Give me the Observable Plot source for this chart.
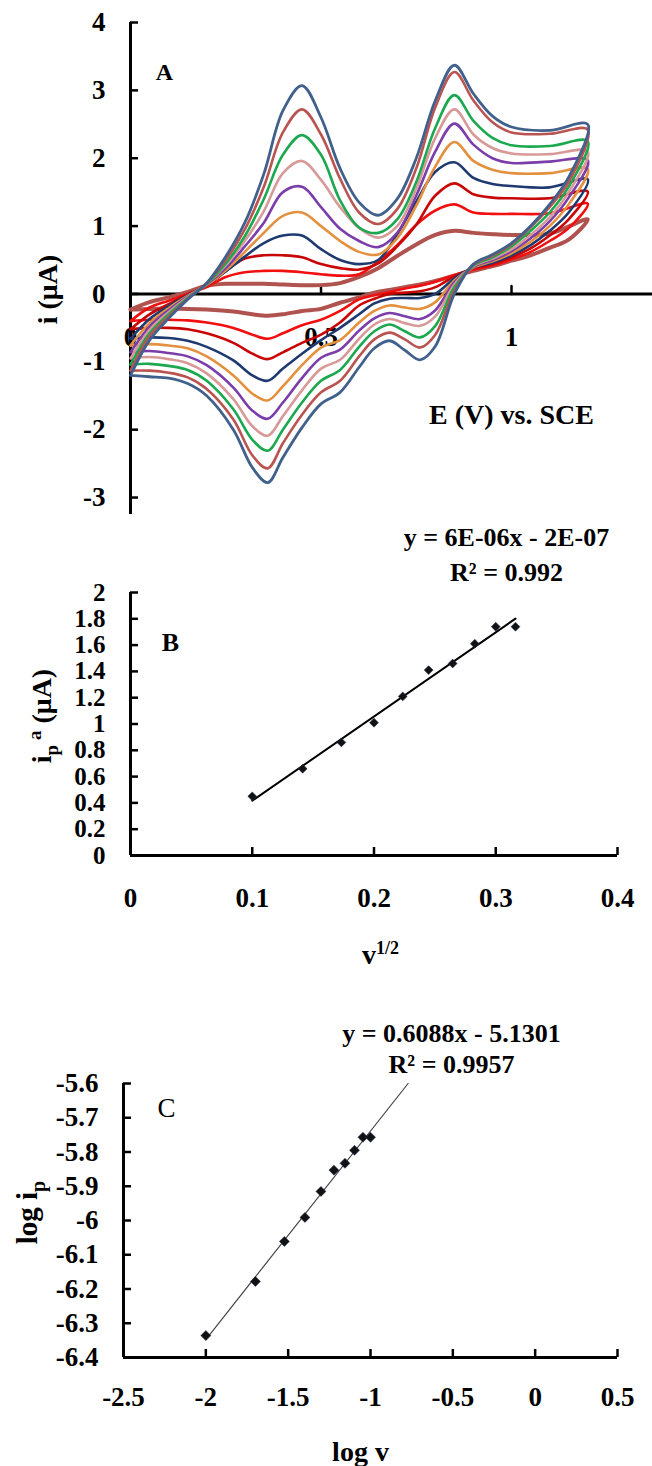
<!DOCTYPE html>
<html><head><meta charset="utf-8">
<script src="https://cdn.jsdelivr.net/npm/d3@7"></script>
<script src="https://cdn.jsdelivr.net/npm/@observablehq/plot@0.6"></script>
<style>
html,body{margin:0;padding:0;background:#fff;}
#root{position:relative;width:652px;height:1466px;overflow:hidden;background:#fff;}
#root svg{position:absolute;left:0;overflow:visible;}
</style></head><body><div id="root"></div>
<script>
// ---------- Panel A: cyclic voltammograms ----------
const E_fwd = [0, 0.05, 0.1, 0.15, 0.2, 0.25, 0.3, 0.35, 0.4, 0.45, 0.5, 0.55, 0.6, 0.65, 0.7, 0.75, 0.8, 0.85, 0.9, 0.95, 1.0, 1.1, 1.2];
const E_rev = [1.15, 1.1, 1.05, 1.0, 0.95, 0.9, 0.85, 0.8, 0.76, 0.72, 0.68, 0.64, 0.6, 0.55, 0.5, 0.45, 0.4, 0.36, 0.32, 0.27, 0.2, 0.15, 0.1, 0.05, 0];

const i_fwd_1  = [-0.23, -0.12, -0.05, 0.03, 0.12, 0.15, 0.15, 0.15, 0.14, 0.13, 0.13, 0.16, 0.25, 0.38, 0.56, 0.73, 0.87, 0.93, 0.9, 0.88, 0.87, 0.89, 1.1];
const i_fwd_2  = [-0.4, -0.2, -0.1, 0.0, 0.1, 0.25, 0.32, 0.34, 0.34, 0.32, 0.29, 0.27, 0.29, 0.48, 0.72, 1.02, 1.23, 1.32, 1.2, 1.18, 1.18, 1.19, 1.33];
const i_fwd_3  = [-0.52, -0.3, -0.15, -0.01, 0.12, 0.34, 0.52, 0.57, 0.57, 0.54, 0.44, 0.38, 0.36, 0.45, 0.7, 1.02, 1.45, 1.63, 1.47, 1.42, 1.41, 1.41, 1.51];
const i_fwd_4  = [-0.66, -0.37, -0.18, -0.02, 0.13, 0.33, 0.55, 0.75, 0.86, 0.86, 0.66, 0.5, 0.44, 0.5, 0.88, 1.36, 1.8, 1.94, 1.71, 1.62, 1.59, 1.57, 1.69];
const i_fwd_5  = [-0.76, -0.43, -0.21, -0.03, 0.13, 0.35, 0.62, 0.9, 1.15, 1.2, 1.0, 0.78, 0.62, 0.58, 0.82, 1.3, 1.88, 2.24, 1.96, 1.83, 1.78, 1.78, 1.84];
const i_fwd_6  = [-0.86, -0.48, -0.24, -0.04, 0.14, 0.38, 0.7, 1.05, 1.5, 1.58, 1.28, 0.96, 0.78, 0.69, 0.9, 1.45, 2.1, 2.51, 2.2, 2.0, 1.93, 1.95, 1.97];
const i_fwd_7  = [-0.95, -0.53, -0.27, -0.05, 0.15, 0.42, 0.78, 1.22, 1.78, 1.96, 1.68, 1.28, 0.97, 0.83, 1.0, 1.55, 2.3, 2.72, 2.35, 2.15, 2.07, 2.06, 2.1];
const i_fwd_8  = [-1.04, -0.58, -0.3, -0.06, 0.15, 0.45, 0.85, 1.4, 2.05, 2.34, 2.05, 1.38, 0.98, 0.9, 1.1, 1.65, 2.45, 2.93, 2.55, 2.3, 2.19, 2.18, 2.25];
const i_fwd_9  = [-1.13, -0.62, -0.33, -0.07, 0.16, 0.5, 0.95, 1.58, 2.38, 2.72, 2.35, 1.7, 1.2, 1.03, 1.25, 1.85, 2.75, 3.27, 2.85, 2.53, 2.38, 2.36, 2.42];
const i_fwd_10 = [-1.2, -0.68, -0.36, -0.08, 0.16, 0.55, 1.05, 1.77, 2.7, 3.07, 2.6, 1.85, 1.35, 1.16, 1.4, 2.0, 2.85, 3.37, 2.95, 2.62, 2.46, 2.41, 2.5];

const i_rev_1  = [0.8, 0.68, 0.57, 0.49, 0.41, 0.34, 0.27, 0.19, 0.14, 0.1, 0.06, 0.02, -0.05, -0.13, -0.22, -0.25, -0.3, -0.32, -0.3, -0.26, -0.23, -0.22, -0.22, -0.22, -0.23];
const i_rev_2  = [0.97, 0.78, 0.62, 0.51, 0.42, 0.36, 0.28, 0.18, 0.12, 0.08, 0.03, -0.02, -0.08, -0.25, -0.38, -0.46, -0.58, -0.66, -0.6, -0.5, -0.42, -0.39, -0.38, -0.38, -0.4];
const i_rev_3  = [1.1, 0.86, 0.67, 0.54, 0.44, 0.38, 0.26, 0.1, 0.04, 0.02, 0.0, -0.07, -0.17, -0.42, -0.6, -0.72, -0.86, -0.96, -0.88, -0.72, -0.58, -0.52, -0.5, -0.5, -0.52];
const i_rev_4  = [1.2, 0.93, 0.72, 0.57, 0.46, 0.39, 0.23, 0.0, -0.06, -0.06, -0.07, -0.14, -0.3, -0.5, -0.68, -0.88, -1.1, -1.28, -1.2, -0.98, -0.78, -0.69, -0.65, -0.64, -0.66];
const i_rev_5  = [1.32, 1.0, 0.77, 0.6, 0.48, 0.39, 0.2, -0.12, -0.22, -0.2, -0.17, -0.25, -0.42, -0.68, -0.79, -1.05, -1.36, -1.57, -1.47, -1.2, -0.92, -0.8, -0.76, -0.74, -0.76];
const i_rev_6  = [1.42, 1.07, 0.82, 0.63, 0.5, 0.4, 0.17, -0.24, -0.37, -0.33, -0.28, -0.36, -0.54, -0.82, -0.94, -1.24, -1.6, -1.84, -1.72, -1.38, -1.05, -0.92, -0.87, -0.84, -0.86];
const i_rev_7  = [1.5, 1.13, 0.87, 0.66, 0.52, 0.41, 0.14, -0.33, -0.47, -0.43, -0.37, -0.45, -0.66, -0.97, -1.1, -1.42, -1.8, -2.09, -1.95, -1.55, -1.17, -1.02, -0.96, -0.93, -0.95];
const i_rev_8  = [1.58, 1.2, 0.93, 0.7, 0.54, 0.42, 0.1, -0.47, -0.64, -0.55, -0.45, -0.55, -0.78, -1.12, -1.28, -1.6, -2.0, -2.31, -2.15, -1.7, -1.28, -1.12, -1.06, -1.03, -1.04];
const i_rev_9  = [1.65, 1.28, 0.98, 0.73, 0.56, 0.43, 0.05, -0.6, -0.79, -0.67, -0.57, -0.67, -0.92, -1.28, -1.45, -1.78, -2.2, -2.57, -2.38, -1.85, -1.4, -1.23, -1.16, -1.13, -1.13];
const i_rev_10 = [1.72, 1.32, 1.0, 0.75, 0.58, 0.44, 0.0, -0.77, -0.97, -0.83, -0.69, -0.8, -1.08, -1.45, -1.62, -1.97, -2.41, -2.78, -2.56, -2.0, -1.5, -1.32, -1.24, -1.22, -1.2];

const cvColors = ["#B0524E", "#F20F0F", "#C80606", "#1F3A70", "#E3913F", "#7A3DAA", "#D79A98", "#1BA84F", "#BA5450", "#41618C"];
const cvWidths = [4, 2.6, 2.6, 2.6, 2.6, 2.6, 2.6, 2.6, 2.6, 2.8];
const cvFwd = [i_fwd_1, i_fwd_2, i_fwd_3, i_fwd_4, i_fwd_5, i_fwd_6, i_fwd_7, i_fwd_8, i_fwd_9, i_fwd_10];
const cvRev = [i_rev_1, i_rev_2, i_rev_3, i_rev_4, i_rev_5, i_rev_6, i_rev_7, i_rev_8, i_rev_9, i_rev_10];

const yTicksA = [-3, -2, -1, 0, 1, 2, 3, 4];
const xTicksA = [0, 0.5, 1];

// ---------- Panel B ----------
const sqrtV = [0.1, 0.1414, 0.1732, 0.2, 0.2236, 0.2449, 0.2646, 0.2828, 0.3, 0.3162];
const ipa   = [0.45, 0.66, 0.86, 1.01, 1.21, 1.41, 1.46, 1.61, 1.74, 1.74];
const yTicksB = [0, 0.2, 0.4, 0.6, 0.8, 1, 1.2, 1.4, 1.6, 1.8, 2];
const xTicksB = [0, 0.1, 0.2, 0.3, 0.4];
const eqB = ["y = 6E-06x - 2E-07", "R² = 0.992"];

// ---------- Panel C ----------
const logV  = [-2, -1.699, -1.523, -1.398, -1.301, -1.222, -1.155, -1.097, -1.046, -1.0];
const logIp = [-6.336, -6.178, -6.061, -5.991, -5.915, -5.853, -5.833, -5.795, -5.757, -5.757];
const trendC = [0.6088, -5.1301];
const yTicksC = [-6.4, -6.3, -6.2, -6.1, -6, -5.9, -5.8, -5.7, -5.6];
const xTicksC = [-2.5, -2, -1.5, -1, -0.5, 0, 0.5];
const eqC = ["y = 0.6088x - 5.1301", "R² = 0.9957"];

// ---------- helpers ----------
const FONT = "'Liberation Serif', 'Times New Roman', serif";
const tickUp = {draw(ctx, l) { ctx.moveTo(0, 0); ctx.lineTo(0, -l); }};
const fmt = d => String(d);
const root = document.getElementById("root");
function place(svg, top) { svg.style.top = top + "px"; root.appendChild(svg); return svg; }
function rich(svg, content, parts) {
  const t = Array.from(svg.querySelectorAll("text")).find(n => n.textContent === content);
  if (!t) return;
  t.textContent = "";
  for (const p of parts) {
    const ts = document.createElementNS("http://www.w3.org/2000/svg", "tspan");
    ts.textContent = p.t;
    if (p.dy != null) ts.setAttribute("dy", p.dy);
    if (p.size != null) ts.setAttribute("font-size", p.size);
    t.appendChild(ts);
  }
}
const axisTxt = {fontSize: 27, fontWeight: "bold", fontFamily: FONT};
function label(str, o) {
  return Plot.text([str], {text: d => d, textAnchor: "middle", lineAnchor: "middle", fontFamily: FONT, fontWeight: "bold", ...o});
}

// ---------- build A ----------
const cvTable = cvFwd.flatMap((f, k) => [
  ...E_fwd.map((E, j) => ({k, E, i: f[j]})),
  ...E_rev.map((E, j) => ({k, E, i: cvRev[k][j]}))
]);
const cvLines = cvFwd.map((f, k) => Plot.line(cvTable.filter(d => d.k === k), {
  x: "E", y: "i", stroke: cvColors[k], strokeWidth: cvWidths[k], curve: "catmull-rom"
}));

const plotA = Plot.plot({
  width: 652, height: 520, marginLeft: 130, marginRight: 0, marginTop: 22, marginBottom: 6,
  x: {domain: [0, 1.37], axis: null},
  y: {domain: [-3.25, 4]},
  style: {fontFamily: FONT, background: "transparent", color: "black"},
  marks: [
    Plot.text(xTicksA, {x: d => d, y: 0, dy: 43, text: fmt, ...axisTxt}),
    Plot.ruleY([0], {stroke: "black", strokeWidth: 3}),
    Plot.ruleX([0], {stroke: "black", strokeWidth: 3}),
    Plot.vector(xTicksA.filter(d => d > 0), {x: d => d, y: 0, length: 8, anchor: "start", shape: tickUp, stroke: "black", strokeWidth: 2.5}),
    Plot.axisY(yTicksA, {tickSize: -8, tickPadding: 33, tickFormat: fmt, strokeWidth: 2.5, label: null, ...axisTxt}),
    ...cvLines,
    label("A", {frameAnchor: "top-left", dx: 34, dy: 50, fontSize: 24}),
    label("E (V) vs. SCE", {frameAnchor: "top-left", dx: 381, dy: 393, fontSize: 28}),
    label("i (μA)", {frameAnchor: "left", dx: -82, dy: 21, rotate: -90, fontSize: 28})
  ]
});
place(plotA, 0);

// ---------- build B ----------
const dataB = sqrtV.map((s, j) => ({s, ip: ipa[j]}));
const plotB = Plot.plot({
  width: 652, height: 470, marginLeft: 130, marginRight: 35, marginTop: 72, marginBottom: 135,
  x: {domain: [0, 0.4]}, y: {domain: [0, 2]},
  style: {fontFamily: FONT, background: "transparent", color: "black"},
  marks: [
    Plot.ruleX([0], {stroke: "black", strokeWidth: 3}),
    Plot.ruleY([0], {stroke: "black", strokeWidth: 3}),
    Plot.axisY(yTicksB, {tickSize: -8, tickPadding: 33, tickFormat: fmt, strokeWidth: 2.5, label: null, ...axisTxt, fontSize: 25}),
    Plot.axisX(xTicksB, {tickSize: -8, tickPadding: 40, tickFormat: fmt, strokeWidth: 2.5, label: null, ...axisTxt}),
    Plot.linearRegressionY(dataB, {x: "s", y: "ip", ci: 0, stroke: "black", strokeWidth: 2}),
    Plot.dot(dataB, {x: "s", y: "ip", symbol: "diamond2", r: 4, fill: "#111", stroke: "#24365a", strokeWidth: 0.6}),
    label(eqB[0], {frameAnchor: "top-left", dx: 376, dy: -55, fontSize: 26}),
    label(eqB[1], {frameAnchor: "top-left", dx: 376, dy: -20, fontSize: 26}),
    label("B", {frameAnchor: "top-left", dx: 40, dy: 50, fontSize: 26}),
    label("v1/2", {frameAnchor: "bottom-left", dx: 250, dy: 100, fontSize: 28}),
    label("ip a (μA)", {frameAnchor: "left", dx: -88, dy: -8, rotate: -90, fontSize: 28})
  ]
});
rich(plotB, "v1/2", [{t: "v"}, {t: "1/2", dy: -10, size: 18}]);
rich(plotB, "ip a (μA)", [{t: "i"}, {t: "p", dy: 7, size: 19}, {t: " a", dy: -17, size: 19}, {t: " (μA)", dy: 10}]);
place(plotB, 520);

// ---------- build C ----------
const dataC = logV.map((x, j) => ({x, y: logIp[j]}));
const yDomC = [-6.4, -5.6];
const trendXs = [logV[0], (yDomC[1] - trendC[1]) / trendC[0]];
const trendLine = trendXs.map(x => ({x, y: trendC[0] * x + trendC[1]}));
const plotC = Plot.plot({
  width: 652, height: 476, marginLeft: 123, marginRight: 35, marginTop: 93, marginBottom: 109,
  x: {domain: [-2.5, 0.5]}, y: {domain: yDomC},
  style: {fontFamily: FONT, background: "transparent", color: "black"},
  marks: [
    Plot.ruleX([-2.5], {stroke: "black", strokeWidth: 3}),
    Plot.ruleY([-6.4], {stroke: "black", strokeWidth: 3}),
    Plot.axisY(yTicksC, {tickSize: -8, tickPadding: 33, tickFormat: fmt, strokeWidth: 2.5, label: null, ...axisTxt}),
    Plot.axisX(xTicksC, {tickSize: -8, tickPadding: 37, tickFormat: fmt, strokeWidth: 2.5, label: null, ...axisTxt}),
    Plot.line(trendLine, {x: "x", y: "y", stroke: "#444", strokeWidth: 1.2}),
    Plot.dot(dataC, {x: "x", y: "y", symbol: "diamond2", r: 4.5, fill: "#111", stroke: "#24365a", strokeWidth: 0.6}),
    label(eqC[0], {frameAnchor: "top-left", dx: 328, dy: -50, fontSize: 26}),
    label(eqC[1], {frameAnchor: "top-left", dx: 328, dy: -19, fontSize: 26}),
    label("C", {frameAnchor: "top-left", dx: 43, dy: 25, fontSize: 27, fontWeight: "normal"}),
    label("log v", {frameAnchor: "bottom-left", dx: 237, dy: 95, fontSize: 28}),
    label("log ip", {frameAnchor: "left", dx: -96, dy: -8, rotate: -90, fontSize: 29})
  ]
});
rich(plotC, "log ip", [{t: "log i"}, {t: "p", dy: 8, size: 20}]);
place(plotC, 990);
</script></body></html>
